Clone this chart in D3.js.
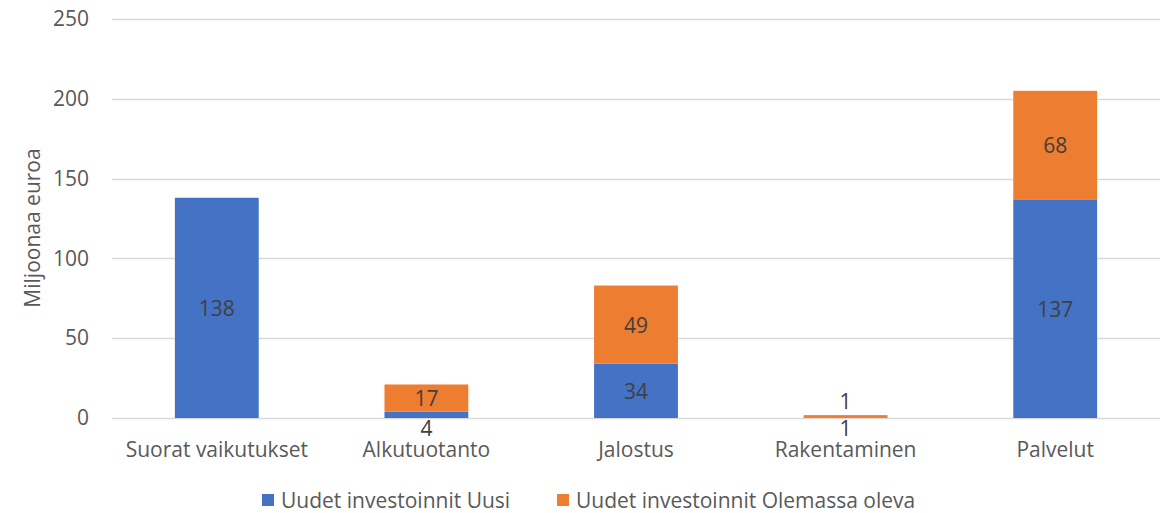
<!DOCTYPE html>
<html>
<head>
<meta charset="utf-8">
<script src="https://cdn.jsdelivr.net/npm/d3@7"></script>
<style>
  body { margin: 0; background: #fff; }
  text { font-family: "Open Sans", sans-serif; }
</style>
</head>
<body>
<div id="chart"></div>
<script>
// Data
const categories = ["Suorat vaikutukset", "Alkutuotanto", "Jalostus", "Rakentaminen", "Palvelut"];
const uusi = [138, 4, 34, 0.4, 137];
const olemassa = [0, 17, 49, 1.4, 68];
const uusiLabels = ["138", "4", "34", "1", "137"];
const olemassaLabels = ["", "17", "49", "1", "68"];
const seriesNames = ["Uudet investoinnit Uusi", "Uudet investoinnit Olemassa oleva"];
const yTicks = [0, 50, 100, 150, 200, 250];

const w = 1173;
const h = 513;
const fs = 21;
const colors = ["#4472C4", "#ED7D31"];

const svg = d3.select("#chart").append("svg")
  .attr("width", w)
  .attr("height", h);

const xScale = d3.scaleBand()
  .domain(categories)
  .range([112, 1160])
  .paddingInner(0.6)
  .paddingOuter(0.3);

const yScale = d3.scaleLinear()
  .domain([0, 250])
  .range([418, 19]);

// gridlines
svg.append("g")
  .selectAll("line")
  .data(yTicks)
  .enter()
  .append("line")
  .attr("x1", 112)
  .attr("x2", 1160)
  .attr("y1", d => Math.round(yScale(d)) + 0.5)
  .attr("y2", d => Math.round(yScale(d)) + 0.5)
  .attr("stroke", "#d9d9d9")
  .attr("stroke-width", 1.3);

// y axis labels
const yAxis = d3.axisLeft(yScale).tickValues(yTicks).tickSize(0).tickPadding(0);
svg.append("g")
  .attr("transform", "translate(89,0)")
  .call(yAxis)
  .call(g => g.select(".domain").remove())
  .selectAll("text")
  .attr("font-family", "'Open Sans', sans-serif")
  .attr("font-size", fs)
  .attr("fill", "#595959");

// stacked data
const rows = categories.map((c, i) => ({ cat: c, uusi: uusi[i], olemassa: olemassa[i] }));
const stack = d3.stack().keys(["uusi", "olemassa"])(rows);

svg.append("g")
  .selectAll("g")
  .data(stack)
  .enter()
  .append("g")
  .attr("fill", (d, i) => colors[i])
  .selectAll("rect")
  .data(d => d)
  .enter()
  .append("rect")
  .attr("x", d => xScale(d.data.cat))
  .attr("width", xScale.bandwidth())
  .attr("y", d => yScale(d[1]))
  .attr("height", d => yScale(d[0]) - yScale(d[1]));

// value labels
const labelG = svg.append("g")
  .attr("font-size", fs)
  .attr("fill", "#404040")
  .attr("text-anchor", "middle")
  .attr("dominant-baseline", "central");

categories.forEach((c, i) => {
  const cx = xScale(c) + xScale.bandwidth() / 2;
  // blue labels: small ones sit below the axis
  let yu = yScale(uusi[i] / 2);
  if (uusi[i] < 10) yu = yScale(0) + 10;
  labelG.append("text").attr("x", cx).attr("y", yu).text(uusiLabels[i]);
  if (olemassaLabels[i]) {
    let yo = yScale(uusi[i] + olemassa[i] / 2);
    if (olemassa[i] < 10) yo = yScale(uusi[i] + olemassa[i]) - 14;
    labelG.append("text").attr("x", cx).attr("y", yo).text(olemassaLabels[i]);
  }
});

// x axis labels
const xAxis = d3.axisBottom(xScale).tickSize(0).tickPadding(0);
svg.append("g")
  .attr("transform", "translate(0,442)")
  .call(xAxis)
  .call(g => g.select(".domain").remove())
  .selectAll("text")
  .attr("font-family", "'Open Sans', sans-serif")
  .attr("font-size", fs)
  .attr("fill", "#595959");

// y title
svg.append("text")
  .attr("transform", "translate(32,228) rotate(-90)")
  .attr("text-anchor", "middle")
  .attr("dominant-baseline", "central")
  .attr("font-size", fs)
  .attr("fill", "#595959")
  .text("Miljoonaa euroa");

// legend
const legendX = [262, 557];
const legend = svg.append("g");
seriesNames.forEach((s, i) => {
  legend.append("rect")
    .attr("x", legendX[i])
    .attr("y", 494)
    .attr("width", 12)
    .attr("height", 12)
    .attr("fill", colors[i]);
  legend.append("text")
    .attr("x", legendX[i] + 19)
    .attr("y", 500)
    .attr("dominant-baseline", "central")
    .attr("font-size", fs)
    .attr("fill", "#595959")
    .text(s);
});
</script>
</body>
</html>
